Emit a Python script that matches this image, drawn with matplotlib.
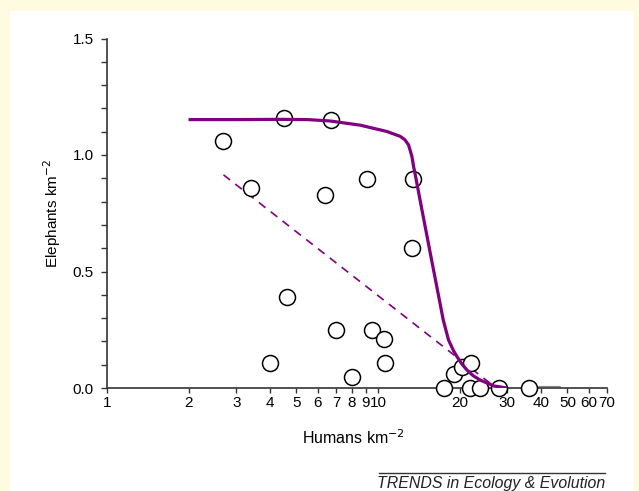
import matplotlib
matplotlib.use("Agg")
import matplotlib.pyplot as plt
from matplotlib.patches import Rectangle
from matplotlib.ticker import FixedLocator, FixedFormatter, NullLocator

plt.rcParams['font.family'] = ['Liberation Sans', 'DejaVu Sans']

# ---- data ----
human_density = [2.69, 3.40, 4.51, 6.68, 6.38, 9.09, 13.5, 13.3, 4.61, 6.99,
                 9.48, 10.48, 10.59, 4.0, 8.0, 17.5, 19.0, 20.5, 22.1, 21.8,
                 23.7, 27.9, 36.1]
elephant_density = [1.059, 0.859, 1.159, 1.150, 0.829, 0.899, 0.899, 0.599, 0.390, 0.250,
                    0.250, 0.209, 0.109, 0.109, 0.049, 0.0, 0.059, 0.089, 0.109, 0.0,
                    0.0, 0.0, 0.0]

fit_x = [2.0, 3.0, 4.35, 5.5, 6.66, 8.6, 10.78, 12.08, 12.55, 12.96, 13.34, 13.53,
         13.80, 14.29, 14.89, 15.64, 16.57, 17.41, 18.21, 19.0, 19.56, 20.4, 21.3,
         22.5, 23.85, 26.7, 29.9]
fit_y = [1.152, 1.152, 1.153, 1.152, 1.146, 1.128, 1.101, 1.080, 1.066, 1.044, 0.994, 0.951,
         0.901, 0.808, 0.700, 0.571, 0.421, 0.292, 0.206, 0.160, 0.135, 0.103, 0.077,
         0.052, 0.034, 0.009, 0.0]

linear_x = [2.69, 25.96]
linear_y = [0.915, 0.02]

tail_x = [37.5, 40.0, 47.0]
tail_y = [0.003, 0.006, 0.006]

x_ticks = [1, 2, 3, 4, 5, 6, 7, 8, 9, 10, 20, 30, 40, 50, 60, 70]
x_tick_labels = ['1', '2', '3', '4', '5', '6', '7', '8', '9', '10', '20', '30', '40', '50', '60', '70']
y_major = [0.0, 0.5, 1.0, 1.5]
y_major_labels = ['0.0', '0.5', '1.0', '1.5']
y_minor = [0.1, 0.2, 0.3, 0.4, 0.6, 0.7, 0.8, 0.9, 1.1, 1.2, 1.3, 1.4]

W, H = 639, 491
fig = plt.figure(figsize=(W / 100, H / 100), dpi=100)
fig.patch.set_facecolor('#fffbe0')
fig.patches.append(Rectangle((10 / W, 0), (634 - 10) / W, (H - 11) / H,
                             transform=fig.transFigure, facecolor='white',
                             edgecolor='none', zorder=-5))

ax = fig.add_axes([107 / W, (H - 388) / H, 500 / W, (388 - 38.5) / H])
ax.set_zorder(2)
ax.set_facecolor('none')
ax.set_xscale('log')
ax.set_xlim(1, 70)
ax.set_ylim(0, 1.5)

purple = '#800080'
ax.plot(linear_x, linear_y, color=purple, lw=1.2, dashes=(5, 4), zorder=2)
ax.plot(tail_x, tail_y, color='#888888', lw=1.0, zorder=2)
ax.plot(human_density, elephant_density, linestyle='none', marker='o', ms=11.5,
        mfc='white', mec='black', mew=1.1, zorder=3, clip_on=False)
ax.plot(fit_x, fit_y, color=purple, lw=2.3, zorder=4, solid_capstyle='butt',
        solid_joinstyle='round')

for s in ['top', 'right']:
    ax.spines[s].set_visible(False)
for s in ['left', 'bottom']:
    ax.spines[s].set_color('#333333')
    ax.spines[s].set_linewidth(1.2)

ax.xaxis.set_major_locator(FixedLocator(x_ticks))
ax.xaxis.set_major_formatter(FixedFormatter(x_tick_labels))
ax.xaxis.set_minor_locator(NullLocator())
ax.yaxis.set_major_locator(FixedLocator(y_major))
ax.yaxis.set_major_formatter(FixedFormatter(y_major_labels))
ax.yaxis.set_minor_locator(FixedLocator(y_minor))

ax.tick_params(axis='x', which='both', direction='out', length=3.5, width=1.0,
               color='#333333', pad=2, labelsize=11)
ax.tick_params(axis='y', which='both', direction='out', length=4.5, width=1.0,
               color='#333333', pad=5, labelsize=11)

fig.text(52 / W, 1 - 213 / H, 'Elephants km$^{\u22122}$', rotation=90,
         ha='center', va='center', fontsize=11)
fig.text(353 / W, 1 - 438 / H, 'Humans km$^{\u22122}$', ha='center', va='center',
         fontsize=11.5)

fig.add_artist(plt.Line2D([379 / W, 605 / W], [1 - 473 / H, 1 - 473 / H],
                          color='#333333', lw=1.0, transform=fig.transFigure))
fig.text(605 / W, 1 - 488 / H, 'TRENDS in Ecology & Evolution', ha='right',
         va='baseline', fontsize=11.4, style='italic', color='#222222')

fig.savefig('out.png', dpi=100, facecolor=fig.get_facecolor())
